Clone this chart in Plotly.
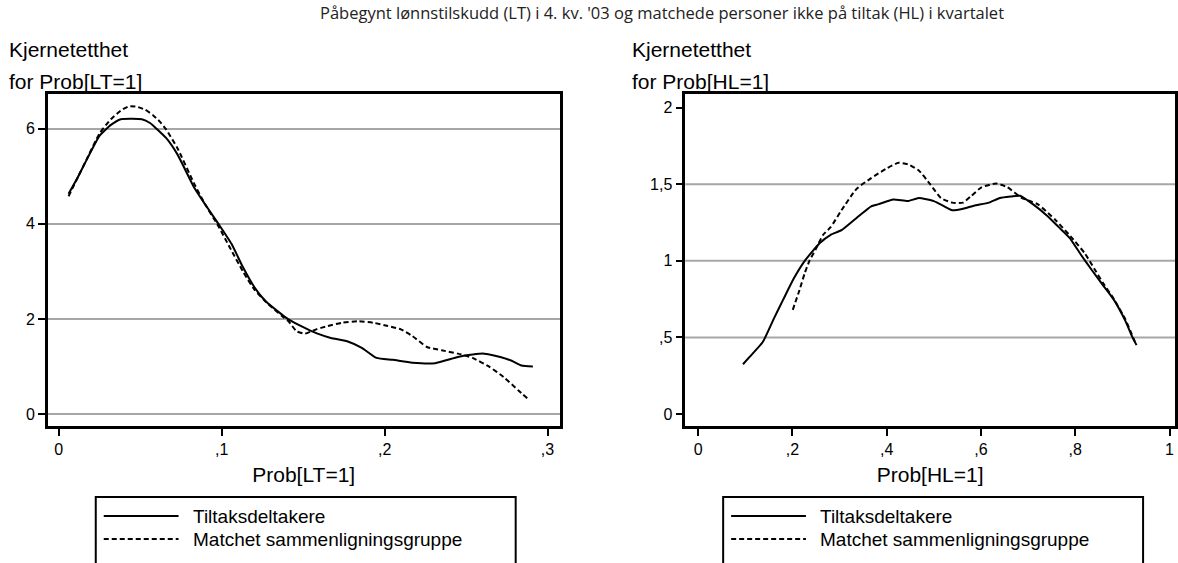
import plotly.graph_objects as go

W, H = 1178, 563

# ---------------- data ----------------
lt_x_tiltak = [0.006, 0.012, 0.017, 0.025, 0.032, 0.038, 0.045, 0.051, 0.056, 0.060, 0.066, 0.073,
               0.083, 0.090, 0.098, 0.106, 0.113, 0.120, 0.127, 0.137, 0.141, 0.151, 0.158, 0.167,
               0.177, 0.186, 0.195, 0.205, 0.217, 0.231, 0.245, 0.254, 0.261, 0.271, 0.278, 0.284, 0.291]
lt_y_tiltak = [4.63, 5.0, 5.34, 5.85, 6.08, 6.2, 6.21, 6.2, 6.12, 6.0, 5.8, 5.45,
               4.77, 4.4, 4.0, 3.58, 3.09, 2.67, 2.37, 2.09, 1.99, 1.81, 1.70, 1.60,
               1.53, 1.39, 1.18, 1.14, 1.08, 1.07, 1.20, 1.25, 1.27, 1.20, 1.12, 1.02, 1.0]

lt_x_match = [0.006, 0.012, 0.017, 0.025, 0.032, 0.038, 0.043, 0.048, 0.053, 0.058, 0.062, 0.066,
              0.073, 0.083, 0.090, 0.098, 0.105, 0.113, 0.120, 0.128, 0.137, 0.141, 0.146, 0.151,
              0.158, 0.165, 0.174, 0.184, 0.193, 0.202, 0.210, 0.217, 0.226, 0.235, 0.245, 0.254,
              0.264, 0.273, 0.282, 0.288]
lt_y_match = [4.58, 5.0, 5.35, 5.9, 6.2, 6.38, 6.47, 6.46, 6.4, 6.28, 6.15, 5.98,
              5.58, 4.85, 4.4, 3.95, 3.5, 3.0, 2.62, 2.33, 2.06, 1.95, 1.74, 1.69,
              1.78, 1.85, 1.92, 1.95, 1.92, 1.85, 1.78, 1.64, 1.41, 1.34, 1.27, 1.18,
              1.0, 0.78, 0.5, 0.32]

hl_x_tiltak = [0.095, 0.109, 0.137, 0.160, 0.180, 0.203, 0.226, 0.258, 0.281, 0.304, 0.336, 0.367,
               0.383, 0.414, 0.445, 0.468, 0.500, 0.519, 0.539, 0.562, 0.585, 0.617, 0.640, 0.664,
               0.683, 0.710, 0.742, 0.765, 0.788, 0.812, 0.835, 0.859, 0.882, 0.906, 0.921, 0.930]
hl_y_tiltak = [0.325, 0.373, 0.47, 0.62, 0.745, 0.886, 1.0, 1.116, 1.17, 1.20, 1.28, 1.356,
               1.37, 1.40, 1.39, 1.41, 1.39, 1.36, 1.33, 1.34, 1.36, 1.38, 1.41, 1.42,
               1.425, 1.37, 1.29, 1.22, 1.15, 1.04, 0.94, 0.84, 0.745, 0.61, 0.504, 0.45]

hl_x_match = [0.2006, 0.215, 0.226, 0.236, 0.250, 0.265, 0.281, 0.304, 0.336, 0.367, 0.398, 0.425,
              0.445, 0.468, 0.492, 0.515, 0.539, 0.562, 0.578, 0.601, 0.632, 0.656, 0.687, 0.720,
              0.757, 0.790, 0.820, 0.840, 0.860, 0.880, 0.906, 0.920, 0.928]
hl_y_match = [0.68, 0.81, 0.92, 1.0, 1.08, 1.17, 1.22, 1.33, 1.47, 1.54, 1.60, 1.64,
              1.63, 1.59, 1.50, 1.41, 1.38, 1.38, 1.42, 1.48, 1.505, 1.48, 1.41, 1.37,
              1.27, 1.16, 1.05, 0.95, 0.85, 0.76, 0.62, 0.52, 0.46]

lt_xticks = [0, 0.1, 0.2, 0.3]
lt_xlabels = ["0", ",1", ",2", ",3"]
lt_yticks = [0, 2, 4, 6]
lt_ylabels = ["0", "2", "4", "6"]
hl_xticks = [0, 0.2, 0.4, 0.6, 0.8, 1]
hl_xlabels = ["0", ",2", ",4", ",6", ",8", "1"]
hl_yticks = [0, 0.5, 1, 1.5, 2]
hl_ylabels = ["0", ",5", "1", "1,5", "2"]
hl_gridlines = [0.5, 1, 1.5]

series_names = ["Tiltaksdeltakere", "Matchet sammenligningsgruppe"]
title_text = "Påbegynt lønnstilskudd (LT) i 4. kv. '03 og matchede personer ikke på tiltak (HL) i kvartalet"

# ---------------- styling ----------------
FONT = "Liberation Sans, Arial, sans-serif"
DASH = "5px,3px"
GRID = "#a6a6a6"


def px(x):
    return x / W


def py(y):
    return 1 - y / H


fig = go.Figure()
line_solid = dict(color="black", width=2, shape="spline", smoothing=0.5)
line_dash = dict(color="black", width=2, dash=DASH, shape="spline", smoothing=0.5)

fig.add_trace(go.Scatter(x=lt_x_tiltak, y=lt_y_tiltak, mode="lines", line=line_solid,
                         name=series_names[0], xaxis="x", yaxis="y", showlegend=False))
fig.add_trace(go.Scatter(x=lt_x_match, y=lt_y_match, mode="lines", line=line_dash,
                         name=series_names[1], xaxis="x", yaxis="y", showlegend=False))
fig.add_trace(go.Scatter(x=hl_x_tiltak, y=hl_y_tiltak, mode="lines", line=line_solid,
                         name=series_names[0], xaxis="x2", yaxis="y2", showlegend=False))
fig.add_trace(go.Scatter(x=hl_x_match, y=hl_y_match, mode="lines", line=line_dash,
                         name=series_names[1], xaxis="x2", yaxis="y2", showlegend=False))

tickfont = dict(family=FONT, size=16, color="black")
common_x = dict(showline=True, linecolor="black", linewidth=2.5, mirror=True, ticks="outside",
                ticklen=7, tickwidth=1.5, tickcolor="black", showgrid=False, zeroline=False,
                tickfont=tickfont, fixedrange=True)
common_y = dict(showline=True, linecolor="black", linewidth=2.5, mirror=True, ticks="outside",
                ticklen=7, tickwidth=1.5, tickcolor="black", zeroline=False,
                tickfont=tickfont, fixedrange=True)

y_dom = [py(426), py(94)]
axis_title_font = dict(family=FONT, size=21, color="black")

fig.update_layout(
    width=W, height=H, margin=dict(l=0, r=0, t=0, b=0),
    paper_bgcolor="white", plot_bgcolor="white", showlegend=False,
    xaxis=dict(common_x, domain=[px(48), px(561)], range=[-0.0067, 0.3074], anchor="y",
               tickvals=lt_xticks, ticktext=lt_xlabels,
               title=dict(text="Prob[LT=1]", font=axis_title_font, standoff=11)),
    yaxis=dict(common_y, domain=y_dom, range=[-0.252, 6.73], anchor="x",
               tickvals=lt_yticks, ticktext=lt_ylabels, showgrid=True, gridcolor=GRID, gridwidth=2),
    xaxis2=dict(common_x, domain=[px(687), 1.0], range=[-0.0275, 1.0116], anchor="y2",
                tickvals=hl_xticks, ticktext=hl_xlabels,
                title=dict(text="Prob[HL=1]", font=axis_title_font, standoff=11)),
    yaxis2=dict(common_y, domain=y_dom, range=[-0.078, 2.089], anchor="x2",
                tickvals=hl_yticks, ticktext=hl_ylabels, showgrid=False),
)

shapes = []
# selective gridlines for right panel
for g in hl_gridlines:
    shapes.append(dict(type="line", xref="x2 domain", yref="y2", x0=0, x1=1, y0=g, y1=g,
                       line=dict(color=GRID, width=2), layer="below"))

annotations = []
annotations.append(dict(text=title_text, x=px(664), y=py(12), xref="paper", yref="paper",
                        xanchor="center", yanchor="middle", showarrow=False,
                        font=dict(family="Open Sans, sans-serif", size=16.5, color="#222222")))
for x0, t2 in [(7, "for Prob[LT=1]"), (632, "for Prob[HL=1]")]:
    annotations.append(dict(text="Kjernetetthet", x=px(x0), y=py(49), xref="paper", yref="paper",
                            xanchor="left", yanchor="middle", showarrow=False,
                            font=dict(family=FONT, size=21, color="black")))
    annotations.append(dict(text=t2, x=px(x0), y=py(82), xref="paper", yref="paper",
                            xanchor="left", yanchor="middle", showarrow=False,
                            font=dict(family=FONT, size=21, color="black")))

# manual legends (boxes run off the bottom of the page)
for bx0, bx1 in [(96, 517), (725, 1146)]:
    shapes.append(dict(type="rect", xref="paper", yref="paper", x0=px(bx0), x1=px(bx1),
                       y0=py(497), y1=py(600), line=dict(color="black", width=2),
                       fillcolor="rgba(0,0,0,0)"))
    for i, (yy, dash) in enumerate([(516, "solid"), (539, DASH)]):
        shapes.append(dict(type="line", xref="paper", yref="paper", x0=px(bx0 + 8), x1=px(bx0 + 83),
                           y0=py(yy), y1=py(yy), line=dict(color="black", width=2, dash=dash)))
        annotations.append(dict(text=series_names[i], x=px(bx0 + 95), y=py(yy), xref="paper",
                                yref="paper", xanchor="left", yanchor="middle", showarrow=False,
                                font=dict(family=FONT, size=19, color="black")))

fig.update_layout(shapes=shapes, annotations=annotations)
fig.write_html("out.html")
